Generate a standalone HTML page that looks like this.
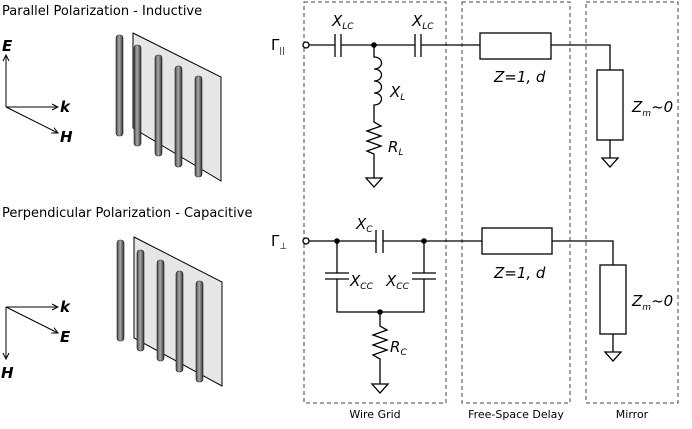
<!DOCTYPE html>
<html><head><meta charset="utf-8"><style>
body{margin:0;background:#fff}
text{font-family:"DejaVu Sans","Liberation Sans",sans-serif;fill:#000}
.i{font-style:italic}
</style></head><body>
<svg width="692" height="424" viewBox="0 0 692 424" xmlns="http://www.w3.org/2000/svg">
<defs>
<linearGradient id="w" x1="0" x2="1"><stop offset="0" stop-color="#444"/><stop offset="0.45" stop-color="#aaa"/><stop offset="1" stop-color="#333"/></linearGradient>
<marker id="a" markerWidth="8" markerHeight="8" refX="7" refY="4" orient="auto" markerUnits="userSpaceOnUse"><path d="M1,1 L7,4 L1,7" fill="none" stroke="#000" stroke-width="1"/></marker>
</defs>
<g font-size="13">
<text x="2" y="15">Parallel Polarization - Inductive</text>
<text x="2" y="217">Perpendicular Polarization - Capacitive</text>
</g>
<!-- axes top -->
<g stroke="#000" stroke-width="1" fill="none">
<line x1="6" y1="107" x2="6" y2="55" marker-end="url(#a)"/>
<line x1="6" y1="107" x2="58" y2="107" marker-end="url(#a)"/>
<line x1="6" y1="107" x2="58" y2="133" marker-end="url(#a)"/>
<line x1="6" y1="307" x2="58" y2="307" marker-end="url(#a)"/>
<line x1="6" y1="307" x2="58" y2="333" marker-end="url(#a)"/>
<line x1="6" y1="307" x2="6" y2="359" marker-end="url(#a)"/>
</g>
<g font-size="15" font-weight="bold" class="i">
<text x="2" y="51" class="i">E</text><text x="60" y="112" class="i">k</text><text x="60" y="142" class="i">H</text>
<text x="60" y="312" class="i">k</text><text x="60" y="342" class="i">E</text><text x="1" y="378" class="i">H</text>
</g>
<!-- grids -->
<g id="g1">
<polygon points="133,33 221,77 221,181 133,128" fill="#e6e6e6" stroke="#000" stroke-width="1"/>
<rect x="116" y="35" width="7" height="101" rx="3" fill="url(#w)" stroke="#222" stroke-width="0.6"/>
<rect x="134" y="45" width="7" height="101" rx="3" fill="url(#w)" stroke="#222" stroke-width="0.6"/>
<rect x="155" y="55" width="7" height="101" rx="3" fill="url(#w)" stroke="#222" stroke-width="0.6"/>
<rect x="175" y="66" width="7" height="101" rx="3" fill="url(#w)" stroke="#222" stroke-width="0.6"/>
<rect x="195" y="76" width="7" height="101" rx="3" fill="url(#w)" stroke="#222" stroke-width="0.6"/>
</g>
<g>
<polygon points="134,237 222,282 222,386 134,338" fill="#e6e6e6" stroke="#000" stroke-width="1"/>
<rect x="117" y="240" width="7" height="101" rx="3" fill="url(#w)" stroke="#222" stroke-width="0.6"/>
<rect x="137" y="250" width="7" height="101" rx="3" fill="url(#w)" stroke="#222" stroke-width="0.6"/>
<rect x="157" y="260" width="7" height="101" rx="3" fill="url(#w)" stroke="#222" stroke-width="0.6"/>
<rect x="176" y="271" width="7" height="101" rx="3" fill="url(#w)" stroke="#222" stroke-width="0.6"/>
<rect x="196" y="281" width="7" height="101" rx="3" fill="url(#w)" stroke="#222" stroke-width="0.6"/>
</g>
<!-- dashed boxes -->
<g fill="none" stroke="#444" stroke-width="1" stroke-dasharray="4,3">
<rect x="304" y="2" width="142" height="401"/>
<rect x="462" y="2" width="108" height="401"/>
<rect x="586" y="2" width="92" height="401"/>
</g>
<g font-size="11"><text x="375" y="418" text-anchor="middle">Wire Grid</text><text x="516" y="418" text-anchor="middle">Free-Space Delay</text><text x="632" y="418" text-anchor="middle">Mirror</text></g>
<!-- top circuit -->
<g stroke="#000" stroke-width="1.3" fill="none">
<circle cx="306" cy="45" r="3" fill="#fff"/>
<path d="M309,45 H335 M341,45 H415 M421,45 H480 M551,45 H610 V70"/>
<path d="M335,34 V57 M341,34 V57 M415,34 V57 M421,34 V57"/>
<path d="M374,45 V57 c10,0 10,12 0,12 c10,0 10,12 0,12 c10,0 10,12 0,12 c10,0 10,12 0,12 V122 l7,4 -14,5 14,5 -14,5 14,5 -14,5 7,3 V178"/>
<path d="M366,178 H382 L374,187 Z"/>
<rect x="480" y="33" width="71" height="26"/>
<rect x="597" y="70" width="26" height="70"/>
<path d="M610,140 V158 M602,158 H618 L610,167 Z"/>
</g>
<circle cx="374" cy="45" r="2.8"/>
<!-- bottom circuit -->
<g stroke="#000" stroke-width="1.3" fill="none">
<circle cx="306" cy="241" r="3" fill="#fff"/>
<path d="M309,241 H376 M383,241 H482 M552,241 H613 V265"/>
<path d="M376,230 V253 M383,230 V253"/>
<path d="M337,241 V273 M325,273 H349 M325,279 H349 M337,279 V312 H424 V279 M412,279 H436 M412,273 H436 M424,273 V241"/>
<path d="M380,312 V326 l7,4 -14,5 14,5 -14,5 14,5 -14,5 7,4 V384 M372,384 H388 L380,393 Z"/>
<rect x="482" y="228" width="70" height="26"/>
<rect x="600" y="265" width="26" height="69"/>
<path d="M613,334 V352 M605,352 H621 L613,361 Z"/>
</g>
<circle cx="337" cy="241" r="2.8"/><circle cx="424" cy="241" r="2.8"/><circle cx="380" cy="312" r="2.8"/>
<!-- labels -->
<g font-size="15" class="i">
<text x="332" y="26" class="i">X<tspan font-size="9" dy="3">LC</tspan></text>
<text x="412" y="26" class="i">X<tspan font-size="9" dy="3">LC</tspan></text>
<text x="390" y="97" class="i">X<tspan font-size="9" dy="3">L</tspan></text>
<text x="388" y="152" class="i">R<tspan font-size="9" dy="3">L</tspan></text>
<text x="494" y="82" class="i">Z=1, d</text>
<text x="632" y="112" class="i">Z<tspan font-size="9" dy="4">m</tspan><tspan dy="-4">~0</tspan></text>
<text x="356" y="229" class="i">X<tspan font-size="9" dy="3">C</tspan></text>
<text x="350" y="286" class="i">X<tspan font-size="9" dy="3">CC</tspan></text>
<text x="386" y="286" class="i">X<tspan font-size="9" dy="3">CC</tspan></text>
<text x="390" y="352" class="i">R<tspan font-size="9" dy="3">C</tspan></text>
<text x="494" y="278" class="i">Z=1, d</text>
<text x="632" y="306" class="i">Z<tspan font-size="9" dy="4">m</tspan><tspan dy="-4">~0</tspan></text>
</g>
<g font-size="15"><text x="271" y="50" font-family="Liberation Serif">Γ<tspan font-size="8" dy="3">||</tspan></text>
<text x="271" y="246" font-family="Liberation Serif">Γ<tspan font-size="9" dy="3">⊥</tspan></text></g>
</svg>
</body></html>
